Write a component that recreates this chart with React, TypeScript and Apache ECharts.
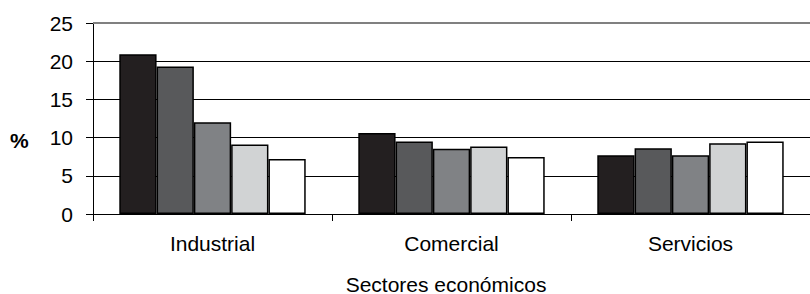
import React, { useEffect, useRef } from "react";
import * as echarts from "echarts";

const categories = ["Industrial", "Comercial", "Servicios"];
const seriesNames = ["Serie 1", "Serie 2", "Serie 3", "Serie 4", "Serie 5"];
const serie1 = [20.9, 10.6, 7.7];
const serie2 = [19.3, 9.5, 8.6];
const serie3 = [12.0, 8.55, 7.7];
const serie4 = [9.1, 8.85, 9.25];
const serie5 = [7.2, 7.45, 9.5];
const seriesValues = [serie1, serie2, serie3, serie4, serie5];
const seriesColors = ["#231f20", "#58595b", "#808285", "#d1d3d4", "#ffffff"];
const yTicks = [0, 5, 10, 15, 20, 25];
const xTitle = "Sectores económicos";
const yTitle = "%";

const FONT = "'Liberation Sans', Arial, sans-serif";

export default function App() {
  const ref = useRef<HTMLDivElement>(null);
  useEffect(() => {
    if (!ref.current) return;
    document.body.style.margin = "0";
    const chart = echarts.init(ref.current, undefined, { renderer: "svg" });
    const series: any[] = seriesValues.map((vals, i) => ({
      name: seriesNames[i],
      type: "bar",
      data: vals,
      barGap: "0%",
      barCategoryGap: "22%",
      itemStyle: {
        color: seriesColors[i],
        borderColor: "#000",
        borderWidth: 1.5,
      },
      silent: true,
      ...(i === 0
        ? {
            markLine: {
              silent: true,
              symbol: "none",
              label: { show: false },
              lineStyle: { color: "#808080", width: 2, type: "solid" },
              data: [{ yAxis: yTicks[yTicks.length - 1] }],
            },
          }
        : {}),
    }));
    chart.setOption({
      animation: false,
      grid: { left: 93, top: 23, bottom: 80, width: 723 },
      xAxis: {
        type: "category",
        data: categories,
        axisLine: { show: true, lineStyle: { color: "#000", width: 1 } },
        axisTick: { show: true, length: 7, lineStyle: { color: "#000" } },
        axisLabel: {
          color: "#000",
          fontFamily: FONT,
          fontSize: 21,
          margin: 19,
        },
      },
      yAxis: {
        type: "value",
        min: yTicks[0],
        max: yTicks[yTicks.length - 1],
        interval: 5,
        axisLine: { show: true, lineStyle: { color: "#000", width: 1 } },
        axisTick: { show: true, length: 7, lineStyle: { color: "#000" } },
        axisLabel: {
          color: "#000",
          fontFamily: FONT,
          fontSize: 21,
          margin: 20,
        },
        splitLine: {
          show: true,
          lineStyle: {
            color: ["#000", "#000", "#000", "#000", "#000", "#808080"],
            width: 1,
          },
        },
      },
      graphic: [
        {
          type: "text",
          left: 10,
          top: 130,
          style: {
            text: yTitle,
            font: `bold 21px ${FONT}`,
            fill: "#000",
          },
        },
        {
          type: "text",
          x: 446,
          y: 284,
          style: {
            text: xTitle,
            font: `21px ${FONT}`,
            fill: "#000",
            textAlign: "center",
            textVerticalAlign: "middle",
          },
        },
      ],
      series,
    });
    return () => chart.dispose();
  }, []);
  return <div ref={ref} style={{ width: 810, height: 294 }} />;
}
